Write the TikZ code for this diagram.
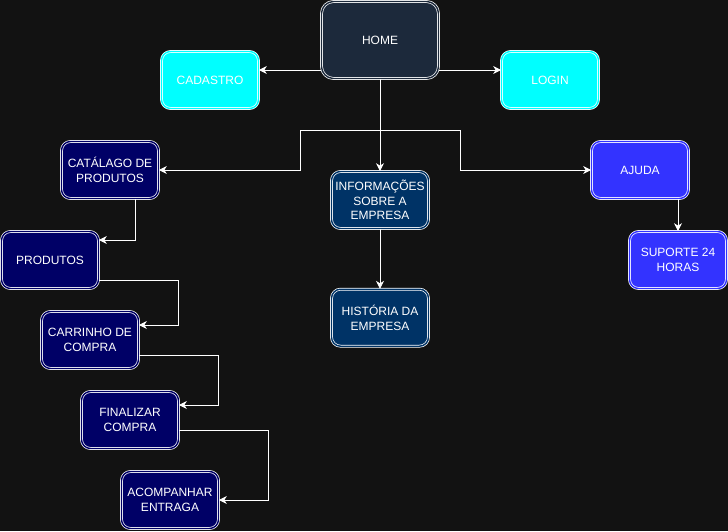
\documentclass[tikz,border=0pt]{standalone}
\usepackage{fontspec}
\setmainfont{Liberation Sans}
\usepackage{tikz}
\usetikzlibrary{positioning,arrows.meta}
\definecolor{bgdark}{HTML}{121212}
\definecolor{homefill}{HTML}{1C293B}
\definecolor{navyfill}{HTML}{000066}
\definecolor{infofill}{HTML}{003366}
\definecolor{ajudafill}{HTML}{3333FF}
\definecolor{cyanfill}{HTML}{00FFFF}
\tikzstyle{box}=[draw=white, line width=0.7pt, double distance=1.4pt, rounded corners=9pt, inner sep=0pt, minimum width=97pt, minimum height=57pt, align=center, text=white, font=\fontsize{12}{14.6}\selectfont]
\tikzstyle{h}=[box, fill=homefill, double=homefill, minimum width=117pt, minimum height=77pt, rounded corners=12pt]
\tikzstyle{c}=[box, fill=cyanfill, double=cyanfill]
\tikzstyle{n}=[box, fill=navyfill, double=navyfill]
\tikzstyle{e}=[box, fill=infofill, double=infofill]
\tikzstyle{a}=[box, fill=ajudafill, double=ajudafill]

\begin{document}
\begin{tikzpicture}[x=1pt, y=-1pt, >={Stealth[length=8pt,width=8pt,inset=2.5pt]}, line width=0.8pt]
	\fill[bgdark] (0,0) rectangle (728,531);
	\useasboundingbox (0,0) rectangle (728,531);
	\node[h] (Home) at (380,40) {HOME};
	\node[c] (Cad) at (210,80) {CADASTRO};
	\node[c] (Login) at (550,80) {LOGIN};
	\node[n] (Cat) at (110,170) {CATÁLAGO DE\\PRODUTOS};
	\node[n] (Prod) at (50,260) {PRODUTOS};
	\node[n] (Carr) at (90,340) {CARRINHO DE\\COMPRA};
	\node[n] (Fin) at (130,420) {FINALIZAR\\COMPRA};
	\node[n] (Acomp) at (170,500) {ACOMPANHAR\\ENTRAGA};
	\node[e] (Info) at (380,200) {INFORMAÇÕES\\SOBRE A\\EMPRESA};
	\node[e] (Hist) [below = 60pt of Info] {HISTÓRIA DA\\EMPRESA};
	\node[a] (Ajuda) at (640,170) {AJUDA};
	\node[a] (Sup) at (678,260) {SUPORTE 24\\HORAS};
	\coordinate (split) at (380,130);
	
	\draw[white,->] ([yshift=-30pt]Home.west) -- ([yshift=-30pt]Home.west -| Cad.east);
	\draw[white,->] ([yshift=-30pt]Home.east) -- ([yshift=-30pt]Home.east -| Login.west);
	\draw[white,->] (Home.south) -- (Info.north);
	\draw[white,->] (split) -- ++(-80,0) |- (Cat.east);
	\draw[white,->] (split) -- ++(80,0) |- (Ajuda.west);
	\draw[white,->] (Info.south) -- (Hist.north);
	\draw[white,->] (Ajuda.south -| Sup.north) -- (Sup.north);
	\draw[white,->] ([xshift=25pt]Cat.south) |- ([yshift=20pt]Prod.east);
	\draw[white,->] ([yshift=-20pt]Prod.east) -- ++(80,0) |- ([yshift=15pt]Carr.east);
	\draw[white,->] ([yshift=-15pt]Carr.east) -- ++(80,0) |- ([yshift=15pt]Fin.east);
	\draw[white,->] ([yshift=-10pt]Fin.east) -- ++(90,0) |- (Acomp.east);
	
\end{tikzpicture}
\end{document}
